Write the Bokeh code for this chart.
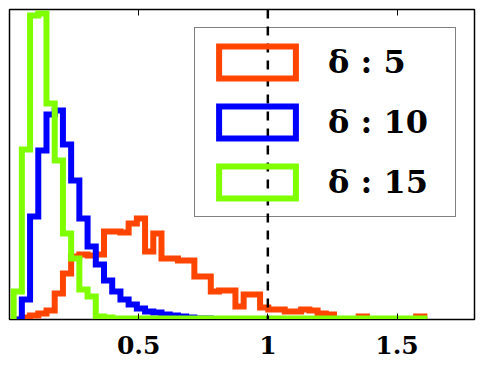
import numpy as np
from bokeh.plotting import figure
from bokeh.models import Range1d, Legend, LegendItem, Span, LinearAxis, FixedTicker
from bokeh.embed import file_html
from bokeh.resources import INLINE

# ---- data ----
EDGE_START = 0.016
BIN_WIDTH = 0.0318
N_BINS = 50

labels = ["δ : 5", "δ : 10", "δ : 15"]
colors = ["#FF4500", "#0000FF", "#7FFF00"]

counts_d5 = [0, 2, 4, 6, 9, 26, 46, 63, 65, 64,
             65, 88, 88, 87, 96, 101, 68, 86, 61, 61,
             59, 59, 43, 43, 28, 29, 29, 13, 25, 25,
             12, 10, 10, 8, 8, 10, 9, 6, 5, 0,
             0, 0, 3, 0, 0, 0, 0, 0, 0, 3]
counts_d10 = [0, 20, 103, 169, 205, 209, 175, 139, 101, 73,
              55, 39, 28, 20, 15, 11, 8, 7, 5, 4,
              3, 2, 1, 1, 0, 0, 0, 0, 0, 0,
              0, 0, 0, 0, 0, 0, 0, 0, 0, 0,
              0, 0, 0, 0, 0, 0, 0, 0, 0, 0]
counts_d15 = [28, 170, 304, 306, 216, 159, 86, 61, 30, 23,
              3, 2, 1, 1, 1, 1, 1, 1, 1, 1,
              1, 1, 1, 1, 1, 1, 1, 1, 1, 1,
              1, 1, 1, 1, 1, 1, 1, 1, 1, 1,
              1, 1, 1, 1, 1, 1, 1, 1, 1, 1]

x_ticks = [0.5, 1.0, 1.5]
x_tick_labels = ["0.5", "1", "1.5"]
threshold = 1.0

edges = EDGE_START + BIN_WIDTH * np.arange(N_BINS + 1)

def step_path(h):
    h = np.asarray(h, dtype=float)
    xs = np.concatenate([[edges[0]], np.repeat(edges, 2)[1:-1], [edges[-1]]])
    ys = np.concatenate([[0.0], np.repeat(h, 2), [0.0]])
    return xs, ys

p = figure(frame_width=465, frame_height=310, output_backend="svg",
           toolbar_location=None, y_axis_location=None,
           x_range=Range1d(0, 1.8), y_range=Range1d(0, 310),
           min_border_left=9, min_border_top=9, min_border_right=3,
           min_border_bottom=42)
p.grid.visible = False
p.outline_line_color = "black"
p.outline_line_width = 1.5
p.background_fill_color = "white"

for cnt, c in zip([counts_d5, counts_d10, counts_d15], colors):
    xs, ys = step_path(cnt)
    p.line(xs, ys, line_color=c, line_width=6, line_join="miter")

# placeholder renderers (no visible data) that give the legend its boxes
items = []
for lab, c in zip(labels, colors):
    r = p.quad(left=[np.nan], right=[np.nan], top=[np.nan], bottom=[np.nan],
               fill_color=None, line_color=c, line_width=6, line_join="miter")
    items.append(LegendItem(label=lab, renderers=[r]))

legend = Legend(items=items, location=(185, 102), margin=0, padding=14,
                spacing=20, glyph_width=96, glyph_height=40, label_height=40,
                label_width=113, label_standoff=23,
                label_text_font="DejaVu Serif", label_text_font_style="bold",
                label_text_font_size="32px", label_text_color="black",
                border_line_color="black", border_line_width=1.4,
                background_fill_alpha=0)
p.add_layout(legend, "center")

p.add_layout(Span(location=threshold, dimension="height", line_color="black",
                  line_width=2.5, line_dash="9 8"))

overrides = {t: l for t, l in zip(x_ticks, x_tick_labels)}
ax = p.xaxis[0]
ax.ticker = FixedTicker(ticks=x_ticks, minor_ticks=[])
ax.major_label_overrides = overrides
ax.major_tick_in = 6
ax.major_tick_out = 0
ax.minor_tick_line_color = None
ax.axis_line_color = "black"
ax.major_tick_line_color = "black"
ax.major_label_text_font = "DejaVu Serif"
ax.major_label_text_font_style = "bold"
ax.major_label_text_font_size = "25px"
ax.major_label_text_color = "black"
ax.major_label_standoff = 16

top = LinearAxis(ticker=FixedTicker(ticks=x_ticks, minor_ticks=[]),
                 major_tick_in=6, major_tick_out=0, minor_tick_line_color=None,
                 axis_line_color=None, major_label_text_font_size="1px",
                 major_label_text_color=None, major_label_standoff=0)
p.add_layout(top, "above")

open("out.html", "w").write(file_html(p, INLINE))
